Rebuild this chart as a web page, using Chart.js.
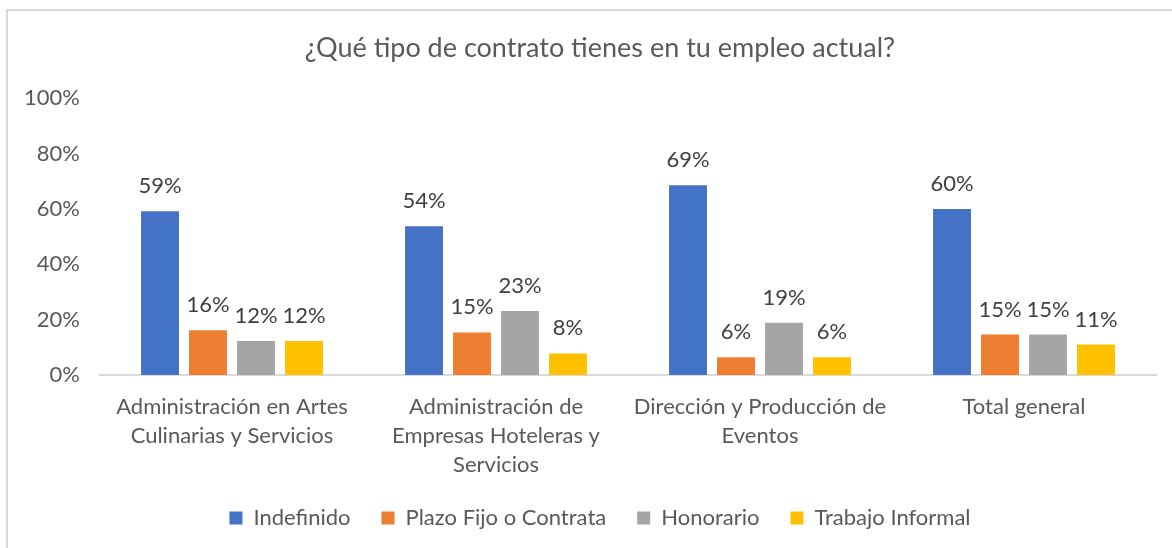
<!DOCTYPE html>
<html>
<head>
<meta charset="utf-8">
<script src="https://cdn.jsdelivr.net/npm/chart.js@4/dist/chart.umd.min.js"></script>
<style>
  html, body { margin: 0; padding: 0; background: #fff; overflow: hidden; }
  #wrap { position: relative; width: 1172px; height: 548px; }
  #frame { position: absolute; left: 6px; top: 9px; width: 1200px; height: 600px; border: 2px solid #d9d9d9; box-sizing: border-box; }
  canvas { position: absolute; left: 0; top: 0; }
</style>
</head>
<body>
<div id="wrap">
  <div id="frame"></div>
  <canvas id="c" width="1172" height="548"></canvas>
</div>
<script>
const title = '¿Qué tipo de contrato tienes en tu empleo actual?';
const categories = [
  ['Administración en Artes', 'Culinarias y Servicios'],
  ['Administración de', 'Empresas Hoteleras y', 'Servicios'],
  ['Dirección y Producción de', 'Eventos'],
  ['Total general']
];
const seriesNames = ['Indefinido', 'Plazo Fijo o Contrata', 'Honorario', 'Trabajo Informal'];
const indefinido = [59.2, 53.8, 68.6, 60.0];
const plazoFijo = [16.2, 15.4, 6.4, 14.6];
const honorario = [12.3, 23.1, 18.9, 14.6];
const informal = [12.3, 7.8, 6.4, 11.0];
const yTicks = [0, 20, 40, 60, 80, 100];
const colors = ['#4472C4', '#ED7D31', '#A5A5A5', '#FFC000'];

const FONT = 'Lato, Calibri, Carlito, "Noto Sans", sans-serif';
const TEXT = '#595959';

const valueLabels = {
  id: 'valueLabels',
  afterDatasetsDraw(chart) {
    const ctx = chart.ctx;
    ctx.save();
    ctx.font = '22px ' + FONT;
    ctx.fillStyle = '#404040';
    ctx.textAlign = 'center';
    ctx.textBaseline = 'alphabetic';
    chart.data.datasets.forEach((ds, i) => {
      const meta = chart.getDatasetMeta(i);
      meta.data.forEach((el, j) => {
        ctx.fillText(Math.round(ds.data[j]) + '%', el.x, el.y - 18);
      });
    });
    ctx.restore();
  }
};

const seriesData = [indefinido, plazoFijo, honorario, informal];

new Chart(document.getElementById('c'), {
  type: 'bar',
  data: {
    labels: categories,
    datasets: seriesNames.map((n, i) => ({
      label: n,
      data: seriesData[i],
      backgroundColor: colors[i],
      borderWidth: 0,
      categoryPercentage: 0.727,
      barPercentage: 0.79
    }))
  },
  options: {
    responsive: false,
    animation: false,
    devicePixelRatio: 1,
    layout: { padding: { left: 44, right: 16, top: 0, bottom: 9 } },
    plugins: {
      title: {
        display: true,
        text: title,
        color: TEXT,
        font: { family: FONT, size: 27, weight: 'normal', lineHeight: 1.2 },
        padding: { top: 32, bottom: 34 }
      },
      legend: {
        position: 'bottom',
        labels: {
          color: TEXT,
          font: { family: FONT, size: 22 },
          boxWidth: 13,
          boxHeight: 13,
          padding: 31
        }
      },
      tooltip: { enabled: false }
    },
    scales: {
      x: {
        grid: { display: false, drawTicks: false },
        border: { display: true, color: '#d9d9d9', width: 2 },
        ticks: {
          color: TEXT,
          font: { family: FONT, size: 22, lineHeight: 1.3 },
          padding: 18,
          maxRotation: 0,
          autoSkip: false
        },
        afterFit(scale) { scale.height = 101; }
      },
      y: {
        min: 0,
        max: 100,
        afterBuildTicks(scale) { scale.ticks = yTicks.map(v => ({ value: v })); },
        grid: { display: false, drawTicks: false },
        border: { display: false },
        ticks: {
          color: TEXT,
          font: { family: FONT, size: 22 },
          padding: 20,
          callback: v => v + '%'
        },
        afterFit(scale) {
          scale.width = 56;
          scale._computeLabelArea = () => undefined;
        }
      }
    }
  },
  plugins: [valueLabels]
});
</script>
</body>
</html>
